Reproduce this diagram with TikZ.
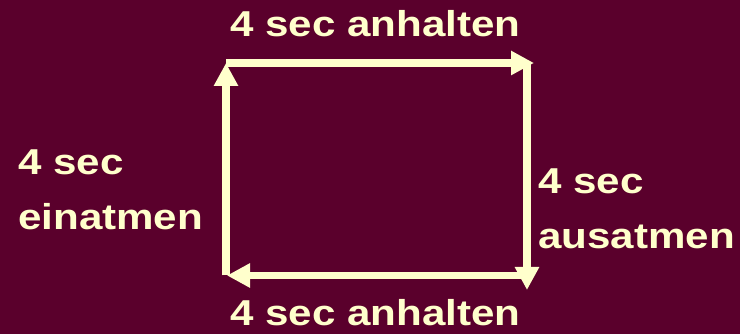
\documentclass[tikz,border=0pt]{standalone}
\usepackage{fontspec}
\setmainfont{Liberation Sans}
\usetikzlibrary{arrows.meta}
\definecolor{bgmaroon}{RGB}{90,0,44}
\definecolor{cream}{RGB}{255,255,204}
\newcommand{\lbl}[1]{\scalebox{1.17}[1]{\begin{tabular}[t]{@{}l@{}}#1\end{tabular}}}
\tikzset{
  phase/.style={draw=cream, line width=7.5pt,
    -{Triangle[length=23pt,width=23pt]}},
  caption/.style={text=cream, inner sep=0pt,
    font=\fontsize{36}{55}\selectfont\bfseries}
}
\begin{document}
\begin{tikzpicture}[x=1pt,y=1pt]
  \fill[bgmaroon] (0,0) rectangle (740,334);
  \useasboundingbox (0,0) rectangle (740,334);
  % corners of the breathing square and the arrow tips that overshoot them
  \coordinate (tl) at (226,271);
  \coordinate (tr) at (527,271);
  \coordinate (trtip) at (534,271);
  \coordinate (br) at (527,58.5);
  \coordinate (brtip) at (527,44);
  \coordinate (bl) at (226,58.5);
  \coordinate (bltip) at (227,58.5);
  % four phases
  \draw[phase] (bl) -- (tl);
  \draw[phase] (tl) -- (trtip);
  \draw[phase] (tr) -- (brtip);
  \draw[phase] (br) -- (bltip);
  % labels
  \node[caption, anchor=base] (top) at (375.5,297) {\lbl{4 sec anhalten}};
  \node[caption, anchor=base] (bottom) at (375.5,8) {\lbl{4 sec anhalten}};
  \node[caption, anchor=base west] (left) at (18,159) {\lbl{4 sec\\einatmen}};
  \node[caption, anchor=base west] (right) at (538,140.5) {\lbl{4 sec\\ausatmen}};
\end{tikzpicture}
\end{document}
